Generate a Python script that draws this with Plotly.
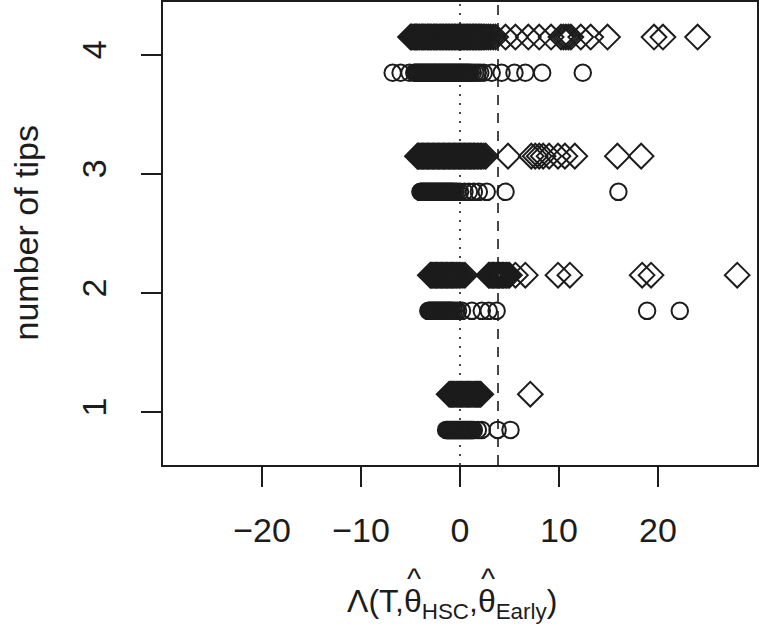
import plotly.graph_objects as go

# number of tips (categories)
tips = [1, 2, 3, 4]

# Lambda statistic values, diamonds (upper row of each category)
diam_1 = [-1.1, -0.98, -0.87, -0.75, -0.64, -0.52, -0.4, -0.3, -0.18, -0.06, 0.05, 0.17, 0.28, 0.4,
          0.51, 0.63, 0.74, 0.86, 0.97, 1.09, 1.2, 1.32, 1.43, 1.55, 1.66, 1.78, 1.9, 2.0, 2.1, 7.1]
diam_2 = [-3.0, -2.88, -2.75, -2.62, -2.5, -2.38, -2.25, -2.12, -2.0, -1.88, -1.75, -1.62, -1.5,
          -1.38, -1.25, -1.12, -1.0, -0.88, -0.75, -0.62, -0.5, -0.35, -0.2, -0.05, 0.1, 0.3, 0.5,
          2.9, 3.02, 3.15, 3.28, 3.4, 3.52, 3.65, 3.78, 3.9, 4.02, 4.15, 4.28, 4.4, 4.55, 4.7, 4.85,
          5.0, 5.6, 6.6, 9.9, 11.1, 18.4, 19.3, 28.0]
diam_3 = [-4.3, -4.18, -4.05, -3.92, -3.8, -3.67, -3.55, -3.42, -3.3, -3.17, -3.05, -2.92, -2.8,
          -2.67, -2.55, -2.42, -2.3, -2.17, -2.05, -1.92, -1.8, -1.67, -1.55, -1.42, -1.3, -1.17,
          -1.05, -0.92, -0.8, -0.67, -0.55, -0.42, -0.3, -0.17, -0.05, 0.08, 0.2, 0.33, 0.45, 0.58,
          0.7, 0.83, 0.95, 1.08, 1.2, 1.33, 1.45, 1.6, 1.75, 1.9, 2.05, 2.2, 2.4, 2.6,
          4.85, 7.2, 7.6, 8.0, 8.4, 9.0, 9.9, 10.6, 11.6, 15.9, 18.3]
diam_4 = [-5.0, -4.9, -4.75, -4.6, -4.5, -4.4, -4.3, -4.15, -4.05, -3.9, -3.8, -3.7, -3.55, -3.45,
          -3.3, -3.2, -3.1, -2.95, -2.85, -2.7, -2.6, -2.5, -2.35, -2.25, -2.1, -2.0, -1.9, -1.75,
          -1.65, -1.5, -1.4, -1.3, -1.15, -1.05, -0.9, -0.8, -0.7, -0.55, -0.45, -0.3, -0.2, -0.1,
          0.05, 0.15, 0.3, 0.4, 0.5, 0.65, 0.75, 0.9, 1.0, 1.1, 1.25, 1.35, 1.5, 1.6, 1.7, 1.85,
          1.95, 2.1, 2.2, 2.35, 2.5, 2.7, 2.9, 3.1, 3.35, 3.6,
          4.6, 5.6, 6.9, 8.0, 9.2, 10.2, 10.45, 10.7, 10.95, 11.2,
          12.2, 13.2, 14.9, 19.6, 20.5, 24.0]

# Lambda statistic values, circles (lower row of each category)
circ_1 = [-1.4, -1.28, -1.16, -1.04, -0.92, -0.8, -0.68, -0.56, -0.44, -0.32, -0.2, -0.08, 0.04,
          0.16, 0.28, 0.4, 0.52, 0.64, 0.76, 0.88, 1.0, 1.12, 1.24, 1.4, 1.8, 2.2, 3.8, 5.1]
circ_2 = [-3.2, -3.08, -2.96, -2.84, -2.72, -2.6, -2.48, -2.36, -2.24, -2.12, -2.0, -1.88, -1.76,
          -1.64, -1.52, -1.4, -1.28, -1.16, -1.04, -0.92, -0.8, -0.62, -0.42, -0.2,
          0.2, 1.2, 2.2, 2.9, 3.7, 18.9, 22.2]
circ_3 = [-4.0, -3.88, -3.76, -3.64, -3.52, -3.4, -3.28, -3.16, -3.04, -2.92, -2.8, -2.68, -2.56,
          -2.44, -2.32, -2.2, -2.08, -1.96, -1.84, -1.72, -1.6, -1.48, -1.36, -1.24, -1.12, -1.0,
          -0.88, -0.76, -0.62, -0.45, -0.25, 0.0, 0.45, 0.9, 1.4, 1.9, 2.7, 4.6, 16.0]
circ_4 = [-6.8, -6.0, -5.1, -4.62, -4.5, -4.38, -4.27, -4.15, -4.02, -3.9, -3.79, -3.66, -3.55,
          -3.42, -3.3, -3.18, -3.07, -2.95, -2.83, -2.7, -2.58, -2.47, -2.35, -2.22, -2.1, -1.99,
          -1.87, -1.75, -1.62, -1.5, -1.39, -1.27, -1.15, -1.03, -0.9, -0.78, -0.66, -0.55, -0.42,
          -0.3, -0.18, -0.07, 0.05, 0.17, 0.3, 0.42, 0.55, 0.68, 0.8, 0.93, 1.1, 1.3, 1.55, 1.8,
          2.05, 2.4, 3.2, 4.2, 5.5, 6.6, 8.3, 12.4]

diamonds = [diam_1, diam_2, diam_3, diam_4]
circles = [circ_1, circ_2, circ_3, circ_4]

x_ticks = [-20, -10, 0, 10, 20]
ref_lines = [0, 3.84]  # dotted, dashed

INK = "#1c1c1c"
FONT = "Liberation Sans, Arial, Helvetica, sans-serif"
OFF = 0.15

# plot area in pixels
W, H = 759, 630
ML, MR, MT, MB = 163, 2, 2, 165
PW, PH = W - ML - MR, H - MT - MB

fig = go.Figure()
for t, vals in zip(tips, circles):
    fig.add_trace(go.Scatter(
        x=vals, y=[t - OFF] * len(vals), mode="markers",
        marker=dict(symbol="circle-open", size=16.5, color=INK, line=dict(width=2, color=INK)),
        showlegend=False, hoverinfo="skip"))
for t, vals in zip(tips, diamonds):
    fig.add_trace(go.Scatter(
        x=vals, y=[t + OFF] * len(vals), mode="markers",
        marker=dict(symbol="diamond-open", size=19, color=INK, line=dict(width=2, color=INK)),
        showlegend=False, hoverinfo="skip"))

fig.add_shape(type="line", xref="x", yref="paper", x0=ref_lines[0], x1=ref_lines[0], y0=0, y1=1,
              line=dict(color=INK, width=1.6, dash="2px,7px"))
fig.add_shape(type="line", xref="x", yref="paper", x0=ref_lines[1], x1=ref_lines[1], y0=0, y1=1,
              line=dict(color=INK, width=1.6, dash="10px,8px"))

fig.update_xaxes(range=[-30, 30], tickvals=x_ticks, ticks="outside", ticklen=20, tickwidth=1.6,
                 tickcolor=INK, showline=True, mirror=True, linecolor=INK, linewidth=1.6,
                 showgrid=False, zeroline=False, ticklabelstandoff=14, automargin=False,
                 tickfont=dict(family=FONT, size=34, color=INK))
fig.update_yaxes(range=[0.555, 4.445], tickvals=tips, ticks="outside", ticklen=20, tickwidth=1.6,
                 tickcolor=INK, showline=True, mirror=True, linecolor=INK, linewidth=1.6,
                 showgrid=False, zeroline=False, tickangle=-90, ticklabelstandoff=22,
                 automargin=False, tickfont=dict(family=FONT, size=34, color=INK))

# x-axis title with hats drawn above the two thetas
TS = 32
title_cx = 452
title_cy = 603
fig.add_annotation(text="Λ(T,θ<sub>HSC</sub>,θ<sub>Early</sub>)", xref="paper", yref="paper",
                   x=(title_cx - ML) / PW, y=(H - MB - title_cy) / PH, yanchor="middle",
                   xanchor="center", showarrow=False, font=dict(family=FONT, size=TS, color=INK))
title_w = 6.685 * TS
left = title_cx - title_w / 2
for off_em in (1.889, 4.201):
    hx = left + (off_em + 0.278) * TS
    fig.add_annotation(text="^", xref="paper", yref="paper", x=(hx - ML) / PW,
                       y=(H - MB - 578) / PH, yanchor="middle", xanchor="center",
                       showarrow=False, font=dict(family=FONT, size=30, color=INK))

fig.add_annotation(text="number of tips", xref="paper", yref="paper", x=0, y=0.5,
                   xanchor="center", xshift=-138, textangle=-90, showarrow=False,
                   font=dict(family=FONT, size=34, color=INK))

fig.update_layout(width=W, height=H, margin=dict(l=ML, r=MR, t=MT, b=MB),
                  plot_bgcolor="white", paper_bgcolor="white")
fig.write_html("out.html", config={"displayModeBar": False},
               post_script="document.body.style.margin='0';document.body.style.overflow='hidden';")
